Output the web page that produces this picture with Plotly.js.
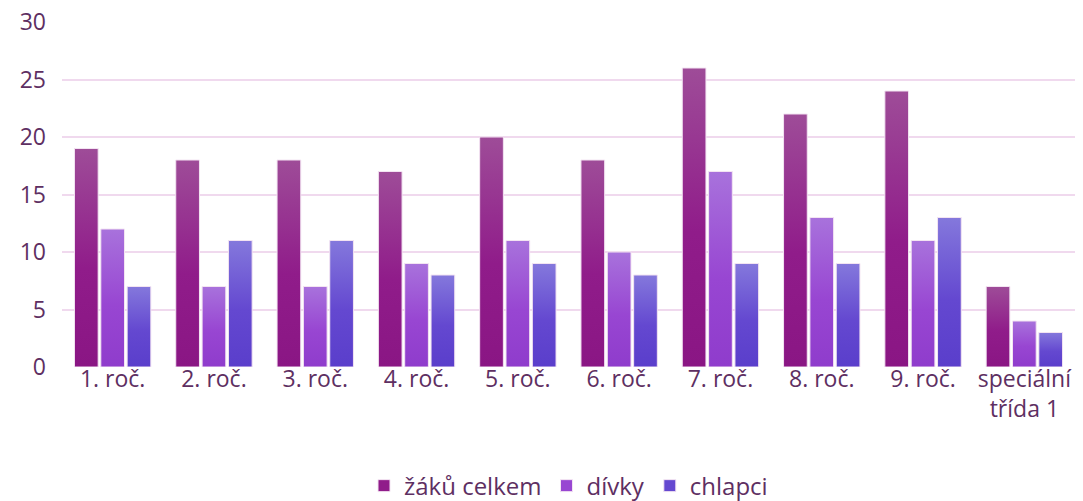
<!DOCTYPE html>
<html>
<head>
<meta charset="utf-8">
<script src="https://cdn.plot.ly/plotly-3.0.1.min.js"></script>
<style>html,body{margin:0;padding:0;background:#fff;}#chart{width:1083px;height:501px;}</style>
</head>
<body>
<div id="chart"></div>
<script>
const categories = ["1. roč.", "2. roč.", "3. roč.", "4. roč.", "5. roč.", "6. roč.", "7. roč.", "8. roč.", "9. roč.", "speciální<br>třída 1"];
const seriesNames = ["žáků celkem", "dívky", "chlapci"];
const zakuCelkem = [19, 18, 18, 17, 20, 18, 26, 22, 24, 7];
const divky = [12, 7, 7, 9, 11, 10, 17, 13, 11, 4];
const chlapci = [7, 11, 11, 8, 9, 8, 9, 9, 13, 3];
const yTicks = [0, 5, 10, 15, 20, 25, 30];

const baseColors = ["#901c8a", "#9846d2", "#6448d0"];
const gradStops = [["#9e4c98", "#8a1684"], ["#a872dc", "#8f3ccc"], ["#8478dc", "#5a3ecb"]];
const values = [zakuCelkem, divky, chlapci];

const traces = values.map((v, i) => ({
  type: "bar",
  name: seriesNames[i],
  x: categories,
  y: v,
  marker: {color: baseColors[i], line: {color: "#f3e4f2", width: 1}},
  hoverinfo: "skip"
}));

const fontFam = "Open Sans, sans-serif";
const txtColor = "#5e2f62";
const layout = {
  width: 1083, height: 501,
  margin: {l: 62, r: 8, t: 22, b: 134, autoexpand: false},
  paper_bgcolor: "#fff", plot_bgcolor: "#fff",
  barmode: "group", bargap: 0.22, bargroupgap: 0.1,
  font: {family: fontFam, color: txtColor, size: 23},
  xaxis: {tickfont: {size: 23, color: txtColor}, showgrid: false, zeroline: false, showline: false, ticks: "", automargin: false, ticklabelstandoff: -4},
  yaxis: {range: [0, 30], tickvals: yTicks, tickfont: {size: 23, color: txtColor}, gridcolor: "#f0d9ee", gridwidth: 2, zeroline: false, showline: false, ticks: "", ticklabelstandoff: 15, automargin: false},
  legend: {orientation: "h", x: 0.5, xanchor: "center", y: -0.345, yanchor: "middle", font: {size: 24, color: txtColor}, itemwidth: 30, tracegroupgap: 0},
  showlegend: true
};

Plotly.newPlot("chart", traces, layout, {staticPlot: true, displayModeBar: false}).then(gd => {
  const svg = gd.querySelector("svg.main-svg");
  const ns = "http://www.w3.org/2000/svg";
  let defs = svg.querySelector("defs");
  if (!defs) { defs = document.createElementNS(ns, "defs"); svg.insertBefore(defs, svg.firstChild); }
  gradStops.forEach((s, i) => {
    const lg = document.createElementNS(ns, "linearGradient");
    lg.setAttribute("id", "bargrad" + i);
    lg.setAttribute("x1", "0"); lg.setAttribute("y1", "0");
    lg.setAttribute("x2", "0"); lg.setAttribute("y2", "1");
    [["0", s[0]], ["0.55", baseColors[i]], ["1", s[1]]].forEach(([o, c]) => {
      const st = document.createElementNS(ns, "stop");
      st.setAttribute("offset", o); st.setAttribute("stop-color", c);
      lg.appendChild(st);
    });
    defs.appendChild(lg);
  });
  gd.querySelectorAll(".barlayer .trace.bars").forEach((tg, i) => {
    tg.querySelectorAll("path").forEach(p => { p.style.fill = "url(#bargrad" + i + ")"; });
  });
});
</script>
</body>
</html>
